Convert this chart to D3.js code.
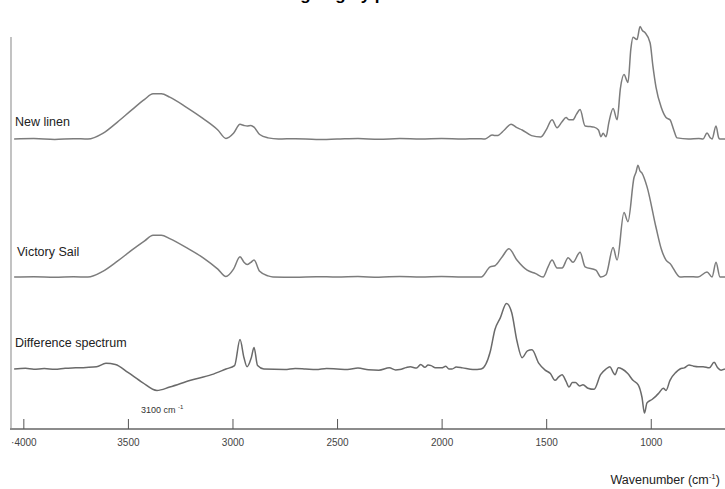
<!DOCTYPE html>
<html>
<head>
<meta charset="utf-8">
<script src="https://cdn.jsdelivr.net/npm/d3@7"></script>
<style>
	body { margin: 0; background: #fff; }
	svg { display: block; font-family: Arial, "Liberation Sans", sans-serif; }
</style>
</head>
<body>
<svg id="viz"></svg>
<script>

// x axis ticks (wavenumber, cm-1)
const tickValues = [4000, 3500, 3000, 2500, 2000, 1500, 1000];
const tickLabels = ["\u00b74000", "3500", "3000", "2500", "2000", "1500", "1000"];

const trackNames = ["New linen", "Victory Sail", "Difference spectrum"];

// absorbance (arbitrary units, 0 = baseline)
const newLinen = [
	[4044, 0], [3950, 0.004], [3850, -0.004], [3760, 0.003], [3691, 0], [3620, 0.05], [3550, 0.15],
	[3480, 0.26], [3420, 0.35], [3380, 0.40], [3340, 0.40], [3300, 0.37], [3220, 0.28],
	[3140, 0.18], [3070, 0.08], [3031, 0.005], [2995, 0.05], [2964, 0.13], [2945, 0.12],
	[2930, 0.115], [2912, 0.12], [2897, 0.105], [2870, 0.04], [2830, 0.01], [2780, 0],
	[2700, 0.003], [2600, -0.004], [2500, 0], [2400, 0.005], [2300, -0.003], [2200, 0.004],
	[2100, 0], [2000, 0.004], [1900, 0], [1830, 0.003], [1792, 0], [1759, 0.035], [1745, 0.03],
	[1735, 0.03], [1700, 0.08], [1668, 0.13], [1640, 0.10], [1615, 0.08], [1570, 0.03],
	[1525, 0.018], [1500, 0.08], [1472, 0.17], [1448, 0.10], [1425, 0.15], [1405, 0.19],
	[1390, 0.17], [1372, 0.17], [1355, 0.22], [1338, 0.26], [1314, 0.115], [1290, 0.11],
	[1271, 0.105], [1250, 0.08], [1238, 0.02], [1228, 0.05], [1214, 0.02], [1200, 0.15],
	[1180, 0.27], [1161, 0.17], [1145, 0.45], [1128, 0.57], [1109, 0.50], [1095, 0.80],
	[1085, 0.90], [1066, 0.88], [1051, 0.995], [1040, 0.96], [1027, 0.94], [1003, 0.85],
	[990, 0.65], [975, 0.46], [950, 0.28], [927, 0.19], [908, 0.17], [890, 0.08], [874, 0.01],
	[820, 0], [770, 0.005], [750, 0], [731, 0.053], [715, 0.01], [707, 0], [688, 0.115],
	[675, 0.01], [669, 0], [645, 0]
];

const victorySail = [
	[4044, 0], [3950, 0.003], [3850, -0.003], [3760, 0.002], [3691, 0], [3620, 0.05], [3550, 0.14],
	[3480, 0.24], [3420, 0.32], [3380, 0.37], [3340, 0.37], [3300, 0.34], [3220, 0.26],
	[3140, 0.17], [3070, 0.07], [3031, 0.005], [2995, 0.07], [2964, 0.18], [2945, 0.13],
	[2930, 0.11], [2912, 0.13], [2897, 0.15], [2870, 0.05], [2830, 0.01], [2806, 0],
	[2700, -0.003], [2600, 0.003], [2500, 0], [2400, 0.004], [2300, -0.002], [2200, 0.005],
	[2100, 0], [2000, 0.004], [1900, 0], [1811, 0], [1768, 0.09], [1745, 0.10], [1710, 0.18],
	[1678, 0.25], [1640, 0.15], [1591, 0.06], [1550, 0.03], [1515, 0], [1491, 0.09],
	[1472, 0.15], [1448, 0.08], [1424, 0.08], [1395, 0.17], [1372, 0.13], [1338, 0.22],
	[1314, 0.09], [1262, 0.06], [1238, 0], [1214, 0.02], [1180, 0.26], [1161, 0.15],
	[1128, 0.57], [1109, 0.49], [1080, 0.88], [1070, 0.93], [1061, 0.99], [1052, 0.94],
	[1042, 0.92], [1018, 0.80], [975, 0.44], [950, 0.25], [927, 0.15], [908, 0.12],
	[860, 0], [820, 0.003], [774, 0], [731, 0.045], [707, 0], [688, 0.13], [669, 0], [645, 0]
];

const difference = [
	[4044, 0], [3990, 0.006], [3950, -0.002], [3900, 0.004], [3850, -0.003], [3800, 0.006],
	[3750, 0.01], [3700, 0.014], [3650, 0.02], [3605, 0.05], [3560, 0.04], [3500, -0.03],
	[3430, -0.12], [3361, -0.19], [3300, -0.16], [3200, -0.10], [3100, -0.05], [3031, 0],
	[2990, 0.03], [2964, 0.26], [2945, 0.10], [2930, 0.02], [2910, 0.10], [2897, 0.19],
	[2880, 0.03], [2850, 0], [2750, -0.004], [2700, 0.005], [2650, 0], [2600, -0.005],
	[2550, 0.004], [2500, 0], [2450, -0.004], [2400, 0.008], [2350, -0.006], [2300, -0.01],
	[2250, 0.01], [2220, -0.008], [2200, -0.005], [2170, 0.012], [2150, 0.02], [2120, 0.008],
	[2100, 0.04], [2080, 0.015], [2065, 0.035], [2050, 0.03], [2030, 0.01], [2000, 0.01],
	[1980, 0.025], [1965, 0], [1950, 0], [1930, 0.018], [1900, 0.01], [1850, -0.005],
	[1811, 0], [1768, 0.15], [1745, 0.35], [1720, 0.45], [1690, 0.58], [1665, 0.50],
	[1640, 0.25], [1615, 0.10], [1590, 0.16], [1568, 0.17], [1535, 0.05], [1505, -0.01],
	[1480, -0.04], [1458, -0.10], [1440, -0.07], [1424, -0.05], [1405, -0.11], [1391, -0.16],
	[1375, -0.12], [1360, -0.12], [1340, -0.15], [1324, -0.14], [1300, -0.17], [1271, -0.18],
	[1240, -0.05], [1214, 0], [1195, 0.02], [1180, -0.03], [1171, -0.05], [1155, 0.01],
	[1137, 0], [1110, -0.04], [1085, -0.10], [1060, -0.14], [1042, -0.25], [1030, -0.39],
	[1018, -0.30], [994, -0.27], [975, -0.24], [960, -0.21], [940, -0.17], [927, -0.19],
	[908, -0.10], [880, -0.03], [860, 0], [840, 0.01], [817, 0.035], [795, 0.025],
	[774, 0.02], [750, 0.02], [720, 0.01], [697, 0.06], [680, 0.01], [664, -0.01], [645, 0]
];

const series = [newLinen, victorySail, difference];

let drawEverything = function() {

	const width = 725;
	const height = 489;

	const svg = d3.select("svg#viz")
		.attr("width", width)
		.attr("height", height);

	// x runs high to low, like every IR spectrum
	const x = d3.scaleLinear()
		.domain([4059, 645])
		.range([11, 725]);

	// one y scale per track, same absorbance size, stacked down the page
	const baselines = [139, 277, 369];
	const unit = 113;
	const ys = baselines.map(b => d3.scaleLinear().domain([0, 1]).range([b, b - unit]));

	const axisY = 429;

	drawTitle();
	drawAxes();
	drawSpectra();
	drawLabels();

	function drawTitle() {
		// the title is cut off by the top of the picture, only descenders show
		svg.append("text")
			.attr("x", 372)
			.attr("y", -0.5)
			.attr("text-anchor", "middle")
			.attr("font-size", 17)
			.attr("font-weight", "bold")
			.attr("fill", "#000")
			.text("Linen ageing by photo-oxidation");
	}

	function drawAxes() {
		// left vertical line
		svg.append("line")
			.attr("x1", 11).attr("x2", 11)
			.attr("y1", 37).attr("y2", axisY)
			.attr("stroke", "#9a9a9a")
			.attr("stroke-width", 1.2);

		const xAxis = d3.axisTop(x)
			.tickValues(tickValues)
			.tickSize(10)
			.tickSizeOuter(0)
			.tickFormat((d, i) => tickLabels[i]);

		let g = svg.append("g")
			.attr("id", "x-axis")
			.attr("transform", translate(0, axisY))
			.call(xAxis);

		g.select(".domain")
			.attr("d", "M10,0H725")
			.attr("stroke", "#8c8c8c")
			.attr("stroke-width", 2);

		g.selectAll(".tick line")
			.attr("stroke", "#555")
			.attr("stroke-width", 1);

		g.selectAll(".tick text")
			.attr("y", 17)
			.attr("dy", 0)
			.attr("font-size", 10)
			.attr("fill", "#444")
			.attr("font-family", "Arial, 'Liberation Sans', sans-serif");

		// axis title
		let t = svg.append("text")
			.attr("x", 720)
			.attr("y", 484)
			.attr("text-anchor", "end")
			.attr("font-size", 12.5)
			.attr("fill", "#222");
		t.append("tspan").text("Wavenumber (cm");
		t.append("tspan").attr("font-size", 8).attr("dy", -5).text("-1");
		t.append("tspan").attr("dy", 5).text(")");
	}

	function drawSpectra() {
		series.forEach(function(s, i) {
			let line = d3.line()
				.x(d => x(d[0]))
				.y(d => ys[i](d[1]))
				.curve(d3.curveMonotoneX);

			svg.append("path")
				.datum(s)
				.attr("fill", "none")
				.attr("stroke", i == 2 ? "#6a6a6a" : "#7c7c7c")
				.attr("stroke-width", 1.5)
				.attr("stroke-linejoin", "round")
				.attr("d", line);
		});
	}

	function drawLabels() {
		const labelPos = [[15, 126], [17, 256], [15, 347]];

		svg.selectAll("text.track")
			.data(trackNames)
			.join("text")
			.attr("class", "track")
			.attr("x", (d, i) => labelPos[i][0])
			.attr("y", (d, i) => labelPos[i][1])
			.attr("font-size", 12.5)
			.attr("fill", "#222")
			.text(d => d);

		// annotation under the OH dip
		let a = svg.append("text")
			.attr("x", 141)
			.attr("y", 413)
			.attr("font-size", 9)
			.attr("fill", "#333");
		a.append("tspan").text("3100 cm ");
		a.append("tspan").attr("font-size", 6).attr("dy", -4).text("-1");
	}
};

let translate = function(x, y) {
	return 'translate(' + x + ',' + y + ')';
}

drawEverything();
</script>
</body>
</html>
